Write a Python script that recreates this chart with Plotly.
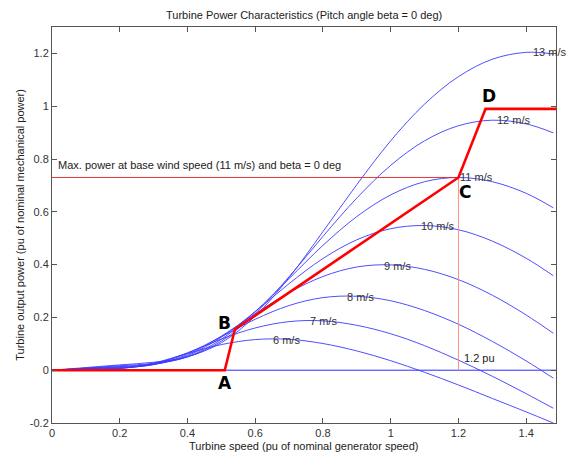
import plotly.graph_objects as go

# Turbine speed (pu) grid
speed = [0, 0.1, 0.2, 0.3, 0.4, 0.5, 0.6, 0.7, 0.8, 0.9, 1.0, 1.1, 1.2, 1.3, 1.4, 1.48]

# Turbine output power (pu) per wind speed
p6 = [0, 0.002, 0.006, 0.027, 0.063, 0.097, 0.116, 0.117, 0.101, 0.073, 0.036, -0.008, -0.056, -0.107, -0.158, -0.200]
p7 = [0, 0.003, 0.007, 0.024, 0.066, 0.118, 0.160, 0.184, 0.187, 0.170, 0.138, 0.093, 0.038, -0.023, -0.089, -0.144]
p8 = [0, 0.004, 0.008, 0.022, 0.064, 0.127, 0.193, 0.245, 0.275, 0.280, 0.263, 0.226, 0.174, 0.109, 0.035, -0.030]
p9 = [0, 0.005, 0.010, 0.021, 0.059, 0.129, 0.214, 0.294, 0.355, 0.391, 0.399, 0.382, 0.343, 0.284, 0.209, 0.140]
p10 = [0, 0.006, 0.012, 0.022, 0.055, 0.125, 0.222, 0.328, 0.423, 0.494, 0.536, 0.548, 0.532, 0.489, 0.424, 0.358]
p11 = [0, 0.007, 0.014, 0.023, 0.051, 0.117, 0.222, 0.347, 0.473, 0.582, 0.664, 0.714, 0.730, 0.714, 0.670, 0.615]
p12 = [0, 0.008, 0.017, 0.026, 0.050, 0.110, 0.215, 0.354, 0.507, 0.652, 0.776, 0.869, 0.926, 0.947, 0.933, 0.899]
p13 = [0, 0.010, 0.020, 0.030, 0.051, 0.104, 0.205, 0.351, 0.525, 0.703, 0.869, 1.008, 1.112, 1.178, 1.204, 1.198]

curves = [p6, p7, p8, p9, p10, p11, p12, p13]
curve_labels = ["6 m/s", "7 m/s", "8 m/s", "9 m/s", "10 m/s", "11 m/s", "12 m/s", "13 m/s"]
label_x = [0.691, 0.803, 0.910, 1.021, 1.141, 1.252, 1.363, 1.471]
label_y = [0.116, 0.186, 0.279, 0.393, 0.546, 0.731, 0.947, 1.204]

# Tracking characteristic (A-B-C-D)
track_x = [0, 0.51, 0.54, 1.2, 1.28, 1.488]
track_y = [0, 0, 0.155, 0.73, 0.99, 0.99]
point_names = ["A", "B", "C", "D"]
point_x = [0.510, 0.508, 1.220, 1.289]
point_y = [-0.050, 0.177, 0.676, 1.038]

max_power = 0.73
base_speed = 1.2
x_max = 1.488

xticks = [0, 0.2, 0.4, 0.6, 0.8, 1.0, 1.2, 1.4]
xtick_text = ["0", "0.2", "0.4", "0.6", "0.8", "1", "1.2", "1.4"]
yticks = [-0.2, 0, 0.2, 0.4, 0.6, 0.8, 1.0, 1.2]
ytick_text = ["-0.2", "0", "0.2", "0.4", "0.6", "0.8", "1", "1.2"]

FONT = "Liberation Sans, Arial, sans-serif"
fig = go.Figure()

# zero line
fig.add_trace(go.Scatter(x=[0, x_max], y=[0, 0], mode="lines",
                         line=dict(color="#2a2aff", width=1), hoverinfo="skip"))
for c in curves:
    fig.add_trace(go.Scatter(x=speed, y=c, mode="lines",
                             line=dict(color="#3a3aff", width=0.9, shape="spline", smoothing=1.0),
                             hoverinfo="skip"))
# max power horizontal line and base speed vertical line
fig.add_trace(go.Scatter(x=[0, base_speed], y=[max_power, max_power], mode="lines",
                         line=dict(color="#e02020", width=0.9), hoverinfo="skip"))
fig.add_trace(go.Scatter(x=[base_speed, base_speed], y=[0, max_power], mode="lines",
                         line=dict(color="#ff8c8c", width=1), hoverinfo="skip"))
# tracking characteristic
fig.add_trace(go.Scatter(x=track_x, y=track_y, mode="lines",
                         line=dict(color="#ff0000", width=2.6), hoverinfo="skip"))

ann = []
for t, x, y in zip(curve_labels, label_x, label_y):
    ann.append(dict(x=x, y=y, xref="x", yref="y", text=t, showarrow=False,
                    font=dict(family=FONT, size=11, color="#333333"),
                    xanchor="center", yanchor="middle"))
for t, x, y in zip(point_names, point_x, point_y):
    ann.append(dict(x=x, y=y, xref="x", yref="y", text="<b>" + t + "</b>", showarrow=False,
                    font=dict(family="DejaVu Sans, sans-serif", size=17, color="#000000"),
                    xanchor="center", yanchor="middle"))
ann.append(dict(x=0.012, y=0.777, xref="x", yref="y",
                text="Max. power at base wind speed (11 m/s) and beta = 0 deg",
                showarrow=False, font=dict(family=FONT, size=11, color="#222222"),
                xanchor="left", yanchor="middle"))
ann.append(dict(x=1.210, y=0.048, xref="x", yref="y", text="1.2 pu", showarrow=False,
                font=dict(family=FONT, size=11, color="#222222"),
                xanchor="left", yanchor="middle"))
ann.append(dict(x=0.5, y=-0.059, xref="paper", yref="paper",
                text="Turbine speed (pu of nominal generator speed)", showarrow=False,
                font=dict(family=FONT, size=11, color="#222222"),
                xanchor="center", yanchor="middle"))
ann.append(dict(x=-0.064, y=0.5, xref="paper", yref="paper",
                text="Turbine output power (pu of nominal mechanical power)", showarrow=False,
                textangle=-90, font=dict(family=FONT, size=11, color="#222222"),
                xanchor="center", yanchor="middle"))
ann.append(dict(x=0.5, y=1.0 + 12 / 396, xref="paper", yref="paper",
                text="Turbine Power Characteristics (Pitch angle beta = 0 deg)", showarrow=False,
                font=dict(family=FONT, size=11, color="#222222"),
                xanchor="center", yanchor="middle"))

axis_common = dict(showgrid=False, zeroline=False, showline=True, linecolor="#555555",
                   linewidth=1, mirror="ticks", ticks="inside", ticklen=5,
                   tickcolor="#555555", tickfont=dict(family=FONT, size=11, color="#333333"))

fig.update_layout(
    width=574, height=454, autosize=False,
    margin=dict(l=52, r=18, t=27, b=31),
    paper_bgcolor="white", plot_bgcolor="white",
    showlegend=False,
    annotations=ann,
    xaxis=dict(range=[0, x_max], tickvals=xticks, ticktext=xtick_text, **axis_common),
    yaxis=dict(range=[-0.2, 1.3], tickvals=yticks, ticktext=ytick_text, **axis_common),
)

fig.write_html("out.html")
